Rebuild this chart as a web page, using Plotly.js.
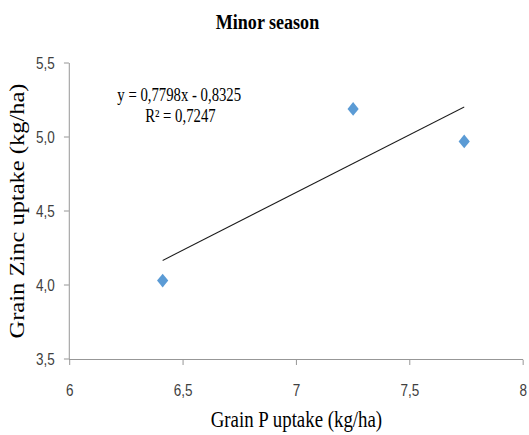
<!DOCTYPE html>
<html>
<head>
<meta charset="utf-8">
<script src="https://cdn.plot.ly/plotly-3.0.1.min.js"></script>
<style>
html,body{margin:0;padding:0;background:#fff;overflow:hidden;}
#wrap{width:529px;height:435px;overflow:hidden;}
#chart{width:645px;height:435px;transform:scaleX(0.82);transform-origin:0 0;}
</style>
</head>
<body>
<div id="wrap"><div id="chart"></div></div>
<script>
var pUptake = [6.41, 7.25, 7.74];
var znUptake = [4.03, 5.19, 4.97];
var slope = 0.7798;
var intercept = -0.8325;
var equationLine = "y = 0,7798x - 0,8325";
var rSquaredLine = "R² = 0,7247";

var xMin = Math.min.apply(null, pUptake);
var xMax = Math.max.apply(null, pUptake);
var trendX = [xMin, xMax];
var trendY = trendX.map(function (x) { return slope * x + intercept; });

var serif = "'Liberation Serif', 'Times New Roman', serif";
var tickFont = {family: "'Liberation Sans', Arial, sans-serif", size: 16.5, color: '#404040'};

var W = 645, H = 435;
var mL = 84.8, mR = 7.2, mT = 63, mB = 76;
var plotW = W - mL - mR, plotH = H - mT - mB;
function px(x) { return (x / 0.82 - mL) / plotW; }
function py(y) { return (H - mB - y) / plotH; }

var traces = [
  {x: trendX, y: trendY, mode: 'lines', type: 'scatter', line: {color: '#1a1a1a', width: 1.1}, hoverinfo: 'skip'},
  {x: pUptake, y: znUptake, mode: 'markers', type: 'scatter',
   marker: {symbol: 'diamond', size: 10.5, color: '#5B9BD5', line: {width: 0}}}
];

var layout = {
  width: W, height: H,
  margin: {l: mL, r: mR, t: mT, b: mB},
  paper_bgcolor: '#fff', plot_bgcolor: '#fff',
  showlegend: false,
  separators: ', ',
  title: {text: '<b>Minor season</b>', font: {family: serif, size: 22, color: '#000'},
          x: 267.5 / 0.82 / W, xanchor: 'center', y: 1 - 21 / H, yanchor: 'middle'},
  xaxis: {
    range: [6, 8], dtick: 0.5, tick0: 6, showgrid: false, zeroline: false,
    showline: true, linecolor: '#8c8c8c', linewidth: 1,
    ticks: 'outside', ticklen: 5, tickcolor: '#8c8c8c', tickfont: tickFont, ticklabelstandoff: 11,
    title: {text: 'Grain P uptake (kg/ha)', font: {family: serif, size: 23, color: '#000'}, standoff: 13}
  },
  yaxis: {
    range: [3.5, 5.5], dtick: 0.5, tick0: 3.5, tickformat: '.1f', showgrid: false, zeroline: false,
    showline: true, linecolor: '#8c8c8c', linewidth: 1,
    ticks: 'outside', ticklen: 6, tickcolor: '#8c8c8c', tickfont: tickFont, ticklabelstandoff: 8,
    title: {text: '\u00a0\u00a0Grain Zinc uptake (kg/ha)', font: {family: serif, size: 24.5, color: '#000'}, standoff: 6}
  },
  annotations: [
    {xref: 'paper', yref: 'paper', x: px(179), y: py(95.5), xanchor: 'center', yanchor: 'middle',
     text: equationLine, showarrow: false, font: {family: serif, size: 18, color: '#000'}},
    {xref: 'paper', yref: 'paper', x: px(180.5), y: py(115.5), xanchor: 'center', yanchor: 'middle',
     text: rSquaredLine, showarrow: false, font: {family: serif, size: 18, color: '#000'}}
  ]
};

Plotly.newPlot('chart', traces, layout, {displayModeBar: false, staticPlot: true});
</script>
</body>
</html>
